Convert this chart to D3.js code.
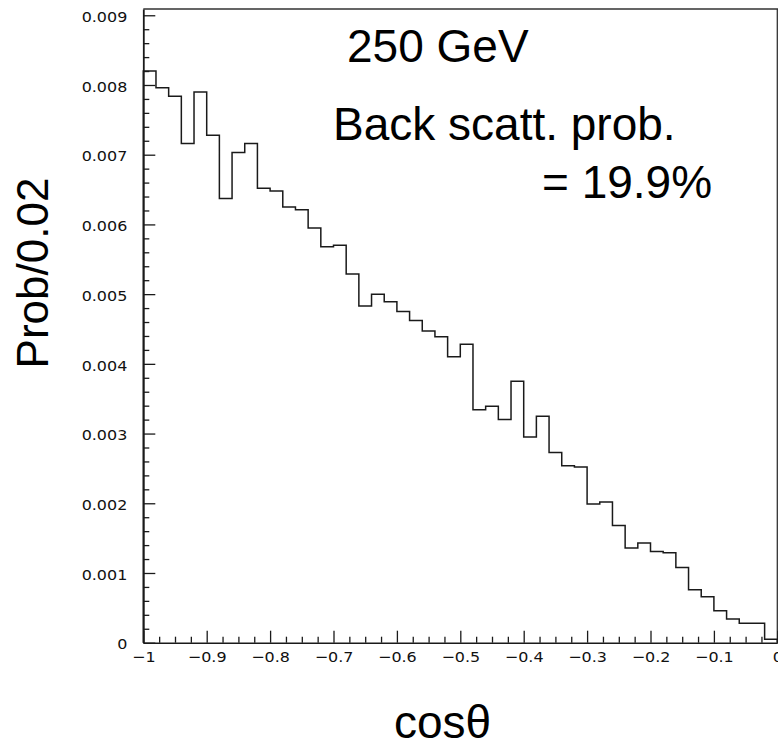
<!DOCTYPE html>
<html>
<head>
<meta charset="utf-8">
<script src="https://cdn.jsdelivr.net/npm/d3@7"></script>
<style>
  html, body { margin: 0; padding: 0; background: #fff; }
  svg { display: block; }
</style>
</head>
<body>
<svg id="chart" width="778" height="747"></svg>
<script>
// ---- data ----
const binLowEdges = [
  -1.00, -0.98, -0.96, -0.94, -0.92, -0.90, -0.88, -0.86, -0.84, -0.82,
  -0.80, -0.78, -0.76, -0.74, -0.72, -0.70, -0.68, -0.66, -0.64, -0.62,
  -0.60, -0.58, -0.56, -0.54, -0.52, -0.50, -0.48, -0.46, -0.44, -0.42,
  -0.40, -0.38, -0.36, -0.34, -0.32, -0.30, -0.28, -0.26, -0.24, -0.22,
  -0.20, -0.18, -0.16, -0.14, -0.12, -0.10, -0.08, -0.06, -0.04, -0.02
];
const probValues = [
  0.00820, 0.00796, 0.00784, 0.00716, 0.00790, 0.00728, 0.00637, 0.00703, 0.00716, 0.00652,
  0.00648, 0.00625, 0.00621, 0.00595, 0.00568, 0.00570, 0.00529, 0.00483, 0.00500, 0.00489,
  0.00475, 0.00462, 0.00447, 0.00439, 0.00410, 0.00428, 0.00334, 0.00339, 0.00320, 0.00375,
  0.00295, 0.00325, 0.00273, 0.00254, 0.00252, 0.00199, 0.00202, 0.00168, 0.00136, 0.00143,
  0.00131, 0.00129, 0.00108, 0.00076, 0.00066, 0.00046, 0.00034, 0.00028, 0.00028, 0.00005
];
const xTickValues = [-1, -0.9, -0.8, -0.7, -0.6, -0.5, -0.4, -0.3, -0.2, -0.1, 0];
const xTickLabels = ["\u22121", "\u22120.9", "\u22120.8", "\u22120.7", "\u22120.6", "\u22120.5",
                     "\u22120.4", "\u22120.3", "\u22120.2", "\u22120.1", "0"];
const yTickValues = [0, 0.001, 0.002, 0.003, 0.004, 0.005, 0.006, 0.007, 0.008, 0.009];
const yTickLabels = ["0", "0.001", "0.002", "0.003", "0.004", "0.005", "0.006", "0.007", "0.008", "0.009"];
const xMax = 0, xMin = -1, yMax = 0.00909;
const titleText = "250 GeV";
const noteLine1 = "Back scatt. prob.";
const noteLine2 = "= 19.9%";
const xLabel = "cos\u03B8";
const yLabel = "Prob/0.02";

// ---- layout ----
const svg = d3.select("#chart");
const L = 143.3, R = 777.3, T = 9, B = 642.7;
const x = d3.scaleLinear().domain([xMin, xMax]).range([L, R]);
const y = d3.scaleLinear().domain([0, yMax]).range([B, T]);
const ink = "#1a1a1a";
const tickFont = "'DejaVu Sans', sans-serif";
const tickSize = 14.5;

// frame (top & right)
svg.append("path")
  .attr("d", `M${L},${T} H${R + 2} M${R},${T} V${B}`)
  .attr("stroke", "#333").attr("stroke-width", 1.3).attr("fill", "none");

// minor ticks x
const xMinor = d3.range(0, 41).map(i => -1 + i * 0.025).filter(v => Math.abs(v * 10 - Math.round(v * 10)) > 1e-6);
svg.append("g").attr("transform", `translate(0,${B})`)
  .call(d3.axisBottom(x).tickValues(xMinor).tickSizeInner(-6).tickSizeOuter(0).tickFormat(""))
  .call(g => g.select(".domain").remove())
  .call(g => g.selectAll("line").attr("stroke", ink).attr("stroke-width", 1.3));

// major x axis
svg.append("g").attr("transform", `translate(0,${B})`)
  .call(d3.axisBottom(x).tickValues(xTickValues).tickSizeInner(-12).tickSizeOuter(0)
    .tickFormat((d, i) => xTickLabels[i]))
  .call(g => g.select(".domain").attr("stroke", ink).attr("stroke-width", 1.6))
  .call(g => g.selectAll("line").attr("stroke", ink).attr("stroke-width", 1.3))
  .call(g => g.selectAll("text")
    .attr("y", 0).attr("dy", null)
    .attr("transform", "translate(0,19.5) scale(1.1,1)")
    .attr("font-family", tickFont).attr("font-size", tickSize)
    .attr("fill", "#111"));

// minor ticks y
const yMinor = d3.range(0, 46).map(i => i * 0.0002).filter(v => Math.abs(v * 1000 - Math.round(v * 1000)) > 1e-6);
svg.append("g").attr("transform", `translate(${L},0)`)
  .call(d3.axisLeft(y).tickValues(yMinor).tickSizeInner(-6).tickSizeOuter(0).tickFormat(""))
  .call(g => g.select(".domain").remove())
  .call(g => g.selectAll("line").attr("stroke", ink).attr("stroke-width", 1.3));

// major y axis
svg.append("g").attr("transform", `translate(${L},0)`)
  .call(d3.axisLeft(y).tickValues(yTickValues).tickSizeInner(-12).tickSizeOuter(0)
    .tickFormat((d, i) => yTickLabels[i]))
  .call(g => g.select(".domain").attr("stroke", ink).attr("stroke-width", 1.8))
  .call(g => g.selectAll("line").attr("stroke", ink).attr("stroke-width", 1.3))
  .call(g => g.selectAll("text")
    .attr("x", 0).attr("dy", "0.36em")
    .attr("text-anchor", "end")
    .attr("transform", "translate(-16,1) scale(1.1,1)")
    .attr("font-family", tickFont).attr("font-size", tickSize)
    .attr("fill", "#111"));

// histogram
const pts = [[xMin, 0]].concat(binLowEdges.map((e, i) => [e, probValues[i]]));
pts.push([xMax, probValues[probValues.length - 1]]);
pts.push([xMax, 0]);
const line = d3.line().x(d => x(d[0])).y(d => y(d[1])).curve(d3.curveStepAfter);
svg.append("path").attr("d", line(pts))
  .attr("fill", "none").attr("stroke", ink).attr("stroke-width", 1.5);

// texts
const big = "'Liberation Sans', Arial, sans-serif";
svg.append("text").attr("x", 347).attr("y", 62).text(titleText)
  .attr("font-family", big).attr("font-size", 46).attr("fill", "#000");
svg.append("text").attr("x", 333).attr("y", 140).text(noteLine1)
  .attr("font-family", big).attr("font-size", 46).attr("fill", "#000");
svg.append("text").attr("x", 542).attr("y", 198).text(noteLine2)
  .attr("font-family", big).attr("font-size", 46).attr("fill", "#000");
svg.append("text").attr("x", 394).attr("y", 738).text(xLabel)
  .attr("font-family", big).attr("font-size", 46).attr("fill", "#000");
svg.append("text").attr("transform", "translate(48,273) rotate(-90)")
  .attr("text-anchor", "middle").text(yLabel)
  .attr("font-family", big).attr("font-size", 44).attr("fill", "#000");
</script>
</body>
</html>
